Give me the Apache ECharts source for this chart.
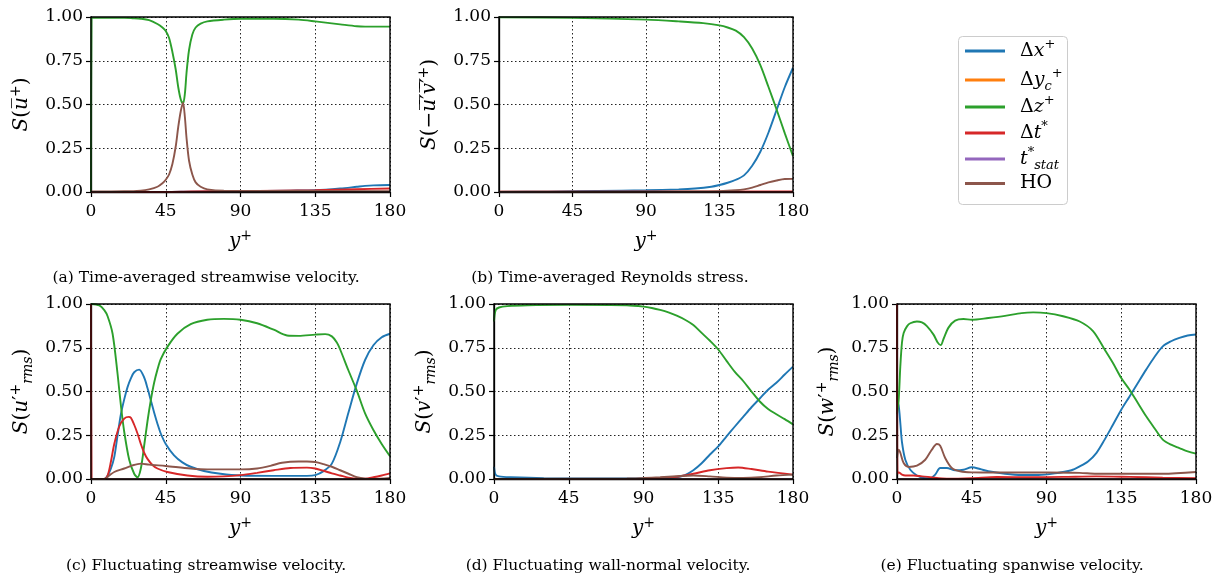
<!DOCTYPE html>
<html><head><meta charset="utf-8">
<script src="https://cdn.jsdelivr.net/npm/echarts@6/dist/echarts.min.js"></script>
<style>html,body{margin:0;padding:0;background:#fff}#c{width:1218px;height:577px}</style>
</head><body><div id="c"></div>
<script>
const X_TICKS = [0, 45, 90, 135, 180];
const Y_TICKS = [0, 0.25, 0.5, 0.75, 1];
const SERIES_NAMES = ['dx', 'dy', 'dz', 'dt', 'tstat', 'HO'];
const COLORS = ['#1f77b4', '#ff7f0e', '#2ca02c', '#d62728', '#9467bd', '#8c564b'];
const CAPTIONS = ['(a) Time-averaged streamwise velocity.', '(b) Time-averaged Reynolds stress.',
  '(c) Fluctuating streamwise velocity.', '(d) Fluctuating wall-normal velocity.', '(e) Fluctuating spanwise velocity.'];

const zeroLine = [[0, 0], [180, 0]];

// Panel (a)
const aBlue = [[0,0],[45,0],[60,0.002],[90,0.005],[120,0.008],[135,0.01],[150,0.02],[160,0.03],[165,0.035],[170,0.038],[180,0.04]];
const aGreen = [[0,0],[0.3,0.99],[1,0.995],[20,0.995],[25,0.993],[30,0.99],[35,0.982],[40,0.96],[43,0.94],[45,0.92],[47,0.88],[49,0.8],[51,0.7],[52.5,0.6],[54,0.53],[55.4,0.505],[56.5,0.56],[57.5,0.68],[59,0.81],[61,0.9],[63,0.94],[66,0.962],[70,0.975],[80,0.985],[90,0.99],[110,0.99],[125,0.985],[135,0.975],[150,0.958],[160,0.947],[165,0.945],[180,0.945]];
const aRed = [[0,0],[45,0],[60,0.003],[90,0.005],[135,0.01],[160,0.016],[180,0.02]];
const aBrown = [[0,0.003],[20,0.004],[30,0.008],[35,0.015],[40,0.03],[43,0.05],[45,0.07],[47,0.1],[49,0.16],[51,0.26],[52.5,0.37],[54,0.46],[55.4,0.51],[56.5,0.43],[57.5,0.31],[59,0.18],[61,0.1],[63,0.055],[66,0.03],[70,0.015],[80,0.007],[180,0.005]];

// Panel (b)
const bBlue = [[0,0],[30,0.002],[60,0.006],[90,0.01],[110,0.015],[120,0.02],[130,0.03],[135,0.04],[140,0.053],[145,0.07],[150,0.095],[155,0.15],[160,0.23],[165,0.34],[170,0.47],[175,0.6],[180,0.71]];
const bGreen = [[0,0.998],[45,0.995],[90,0.985],[110,0.975],[125,0.965],[135,0.952],[140,0.94],[145,0.922],[150,0.885],[155,0.82],[160,0.725],[165,0.6],[170,0.47],[175,0.335],[180,0.205]];
const bRed = [[0,0.002],[180,0.003]];
const bBrown = [[0,0.002],[120,0.003],[135,0.005],[145,0.01],[150,0.015],[155,0.025],[160,0.04],[165,0.055],[170,0.066],[175,0.074],[180,0.075]];

// Panel (c)
const cBlue = [[0,0],[8,0],[10,0.02],[12,0.06],[14,0.125],[16,0.25],[18,0.37],[20,0.455],[22,0.525],[24,0.575],[26,0.61],[29,0.625],[32,0.58],[34,0.52],[36,0.45],[38,0.38],[40,0.316],[42,0.26],[45,0.2],[50,0.135],[55,0.095],[60,0.07],[68,0.046],[78,0.03],[90,0.02],[110,0.018],[130,0.018],[135,0.022],[140,0.045],[145,0.088],[150,0.21],[155,0.38],[160,0.545],[165,0.68],[170,0.764],[175,0.81],[180,0.83]];
const cGreen = [[0,1.0],[5,0.992],[8,0.965],[10,0.93],[13,0.83],[16,0.6],[18,0.42],[20,0.27],[23,0.11],[26,0.03],[28,0.01],[30,0.06],[32,0.19],[34,0.33],[36,0.45],[38,0.55],[40,0.625],[42,0.685],[46,0.755],[52,0.83],[60,0.885],[70,0.91],[80,0.915],[90,0.91],[100,0.89],[110,0.853],[118,0.82],[125,0.818],[135,0.825],[141,0.828],[145,0.815],[148,0.78],[150,0.74],[155,0.62],[160,0.505],[165,0.375],[170,0.28],[175,0.2],[180,0.13]];
const cRed = [[0,1.0],[0.3,0],[8,0],[10,0.02],[12,0.1],[14,0.2],[17,0.3],[20,0.345],[22.7,0.355],[24,0.35],[26,0.31],[28,0.26],[30,0.2],[32,0.15],[34,0.115],[37,0.08],[40,0.06],[46,0.04],[58,0.02],[70,0.013],[80,0.015],[90,0.022],[100,0.035],[110,0.05],[120,0.063],[130,0.065],[135,0.06],[140,0.047],[145,0.032],[150,0.02],[155,0.008],[160,0.002],[165,0.002],[170,0.01],[175,0.02],[180,0.032]];
const cBrown = [[0,0],[8,0],[11,0.02],[14,0.04],[20,0.06],[25,0.078],[30,0.088],[35,0.082],[45,0.074],[60,0.06],[70,0.055],[90,0.055],[100,0.06],[108,0.075],[115,0.093],[125,0.1],[130,0.1],[135,0.097],[140,0.085],[145,0.07],[150,0.05],[155,0.03],[160,0.01],[165,0.002],[170,0.001],[180,0.006]];

// Panel (d)
const dBlue = [[0,0.07],[1,0.025],[3,0.015],[10,0.01],[30,0.005],[90,0.003],[105,0.006],[110,0.01],[115,0.022],[120,0.05],[125,0.09],[130,0.14],[135,0.187],[140,0.244],[145,0.3],[150,0.355],[155,0.41],[160,0.46],[165,0.51],[170,0.55],[175,0.597],[180,0.642]];
const dGreen = [[0,0.9],[1,0.965],[3,0.98],[8,0.988],[20,0.993],[45,0.995],[80,0.993],[90,0.985],[95,0.977],[100,0.966],[105,0.952],[110,0.933],[115,0.91],[120,0.88],[125,0.835],[130,0.79],[135,0.74],[140,0.675],[145,0.612],[150,0.56],[155,0.5],[160,0.443],[165,0.4],[170,0.37],[175,0.342],[180,0.312]];
const dRed = [[0,0],[90,0.002],[100,0.006],[110,0.013],[120,0.03],[130,0.05],[140,0.062],[147,0.066],[155,0.057],[165,0.042],[180,0.025]];
const dBrown = [[0,0],[80,0.003],[90,0.006],[100,0.01],[110,0.016],[120,0.02],[130,0.015],[140,0.008],[150,0.006],[160,0.01],[170,0.02],[180,0.025]];

// Panel (e)
const eBlue = [[0,0.45],[1,0.42],[2,0.32],[3,0.21],[5,0.11],[8,0.053],[12,0.02],[16,0.006],[20,0.005],[23,0.025],[26,0.063],[30,0.063],[35,0.05],[40,0.053],[45,0.067],[50,0.057],[55,0.044],[65,0.03],[75,0.023],[85,0.023],[95,0.032],[105,0.05],[110,0.072],[115,0.1],[120,0.148],[125,0.225],[130,0.31],[135,0.396],[140,0.472],[145,0.549],[150,0.625],[155,0.697],[160,0.758],[165,0.787],[170,0.806],[175,0.82],[180,0.826]];
const eGreen = [[0,0.37],[1,0.45],[2,0.644],[3,0.78],[4,0.834],[6,0.872],[8,0.89],[12,0.9],[15,0.895],[18,0.874],[22,0.825],[24.5,0.78],[26.3,0.765],[28,0.8],[31,0.865],[35,0.905],[40,0.914],[45,0.91],[55,0.92],[65,0.932],[75,0.948],[82,0.952],[90,0.948],[100,0.93],[110,0.9],[118,0.845],[125,0.74],[130,0.663],[135,0.577],[140,0.51],[145,0.434],[150,0.358],[155,0.29],[160,0.225],[165,0.196],[170,0.177],[175,0.158],[180,0.145]];
const eRed = [[0,1.0],[0.3,0.03],[1,0.038],[3,0.025],[5,0.02],[10,0.02],[15,0.015],[20,0.01],[30,0.002],[45,0.005],[60,0.012],[80,0.01],[100,0.012],[120,0.015],[140,0.012],[160,0.008],[180,0.005]];
const eBrown = [[0,0.12],[1,0.168],[2,0.15],[4,0.091],[7,0.069],[12,0.076],[17,0.11],[21,0.168],[24,0.2],[26,0.19],[29,0.12],[33,0.063],[38,0.044],[45,0.038],[60,0.037],[90,0.037],[110,0.035],[120,0.03],[140,0.03],[160,0.03],[180,0.04]];

const PANEL_DATA = [
  [aBlue, zeroLine, aGreen, aRed, zeroLine, aBrown],
  [bBlue, zeroLine, bGreen, bRed, zeroLine, bBrown],
  [cBlue, zeroLine, cGreen, cRed, zeroLine, cBrown],
  [dBlue, zeroLine, dGreen, dRed, zeroLine, dBrown],
  [eBlue, zeroLine, eGreen, eRed, zeroLine, eBrown]
];

const FONT = 'DejaVu Serif';
const YNAMES = [
  '{i|S}{t|(}{i|u\u0305}{sup|+}{t|)}',
  '{i|S}{t|(\u2212}{i|u\u0305}{t|\u2032\u0305}{i|v\u0305}{t|\u2032\u0305}{sup|+}{t|)}',
  '{i|S}{t|(}{i|u}{t|\u2032}{sup|+}{sub|rms}{t|)}',
  '{i|S}{t|(}{i|v}{t|\u2032}{sup|+}{sub|rms}{t|)}',
  '{i|S}{t|(}{i|w}{t|\u2032}{sup|+}{sub|rms}{t|)}'
];
const LEGEND_LABELS = {
  dx: '{sp|}{t|\u0394}{i|x}{sup|+}',
  dy: '{sp|}{t|\u0394}{i|y}{sub|c}{sup|+}',
  dz: '{sp|}{t|\u0394}{i|z}{sup|+}',
  dt: '{sp|}{t|\u0394}{i|t}{sup|*}',
  tstat: '{sp|}{i|t}{sup|*}{sub|stat}',
  HO: '{sp|}{t|HO}'
};
const LEGEND_CENTERS = [51, 80, 107, 133, 159, 187];

function makeRich(fs) {
  return {
    t: {fontFamily: FONT, fontSize: fs, lineHeight: 26, color: '#000'},
    i: {fontFamily: FONT, fontSize: fs, fontStyle: 'italic', lineHeight: 26, color: '#000'},
    sup: {fontFamily: FONT, fontSize: Math.round(fs * 0.7), verticalAlign: 'top', lineHeight: 14, color: '#000'},
    sub: {fontFamily: FONT, fontSize: Math.round(fs * 0.7), fontStyle: 'italic', verticalAlign: 'bottom', lineHeight: 12, color: '#000'},
    sp: {width: 10, lineHeight: 26}
  };
}

const GRIDS = [
  {left: 91, top: 17, width: 299, height: 175},
  {left: 499, top: 17, width: 294, height: 175},
  {left: 91, top: 304, width: 299, height: 175},
  {left: 494, top: 304, width: 299, height: 175},
  {left: 897, top: 304, width: 299, height: 175}
];
const CAPTION_CENTERS = [[206, 279], [610, 279], [206, 567], [608, 567], [1012, 567]];

const chart = echarts.init(document.getElementById('c'), null, {renderer: 'canvas'});
const option = {
  animation: false,
  backgroundColor: '#fff',
  grid: GRIDS.map(g => Object.assign({show: true, borderColor: '#000', borderWidth: 1.4, backgroundColor: 'transparent', z: 10}, g)),
  xAxis: GRIDS.map((g, k) => ({
    gridIndex: k, type: 'value', min: X_TICKS[0], max: X_TICKS[X_TICKS.length - 1], interval: 45,
    name: '{i|y}{sup|+}', nameLocation: 'middle', nameGap: 37,
    nameTextStyle: {rich: makeRich(20)},
    axisLine: {show: true, onZero: false, lineStyle: {color: '#000', width: 1.3}},
    axisTick: {show: true, inside: false, length: 5, lineStyle: {color: '#000', width: 1.2}},
    axisLabel: {fontFamily: FONT, fontSize: 17, color: '#000', margin: 11},
    splitLine: {show: true, lineStyle: {color: '#222', type: [1.5, 2.5], width: 1}}
  })),
  yAxis: GRIDS.map((g, k) => ({
    gridIndex: k, type: 'value', min: Y_TICKS[0], max: Y_TICKS[Y_TICKS.length - 1], interval: 0.25,
    name: YNAMES[k], nameLocation: 'middle', nameGap: 56, nameRotate: 90,
    nameTextStyle: {rich: makeRich(20)},
    axisLine: {show: true, onZero: false, lineStyle: {color: '#000', width: 1.3}},
    axisTick: {show: true, inside: false, length: 5, lineStyle: {color: '#000', width: 1.2}},
    axisLabel: {fontFamily: FONT, fontSize: 17, color: '#000', margin: 8, formatter: v => v.toFixed(2)},
    splitLine: {show: true, lineStyle: {color: '#222', type: [1.5, 2.5], width: 1}}
  })),
  title: CAPTIONS.map((c, k) => ({
    text: c, left: CAPTION_CENTERS[k][0] - 5, top: CAPTION_CENTERS[k][1] - 14,
    textAlign: 'center',
    textStyle: {fontFamily: FONT, fontSize: 15.5, fontWeight: 'normal', color: '#000'}
  })),
  legend: SERIES_NAMES.map((n, k) => ({
    orient: 'vertical', left: 965, top: LEGEND_CENTERS[k] - 13, padding: 0,
    itemWidth: 40, itemHeight: 3, icon: 'rect',
    data: [n], formatter: nm => LEGEND_LABELS[nm],
    textStyle: {rich: makeRich(19)}, selectedMode: false
  })),
  graphic: [{type: 'rect', shape: {x: 958.5, y: 36.5, width: 109, height: 168, r: 4},
    style: {fill: 'rgba(255,255,255,0.8)', stroke: '#ccc', lineWidth: 1}, z: -1}],
  series: []
};
PANEL_DATA.forEach((arrs, k) => {
  arrs.forEach((d, s) => {
    const hidden = (s === 1 || s === 4);
    option.series.push({
      type: 'line', name: SERIES_NAMES[s], xAxisIndex: k, yAxisIndex: k, data: d,
      showSymbol: false, symbol: 'none', smooth: 0.3, clip: true,
      lineStyle: {color: COLORS[s], width: hidden ? 1.2 : 1.9}, itemStyle: {color: COLORS[s]}, z: hidden ? 1 : 2 + s
    });
  });
});
chart.setOption(option);
</script></body></html>
